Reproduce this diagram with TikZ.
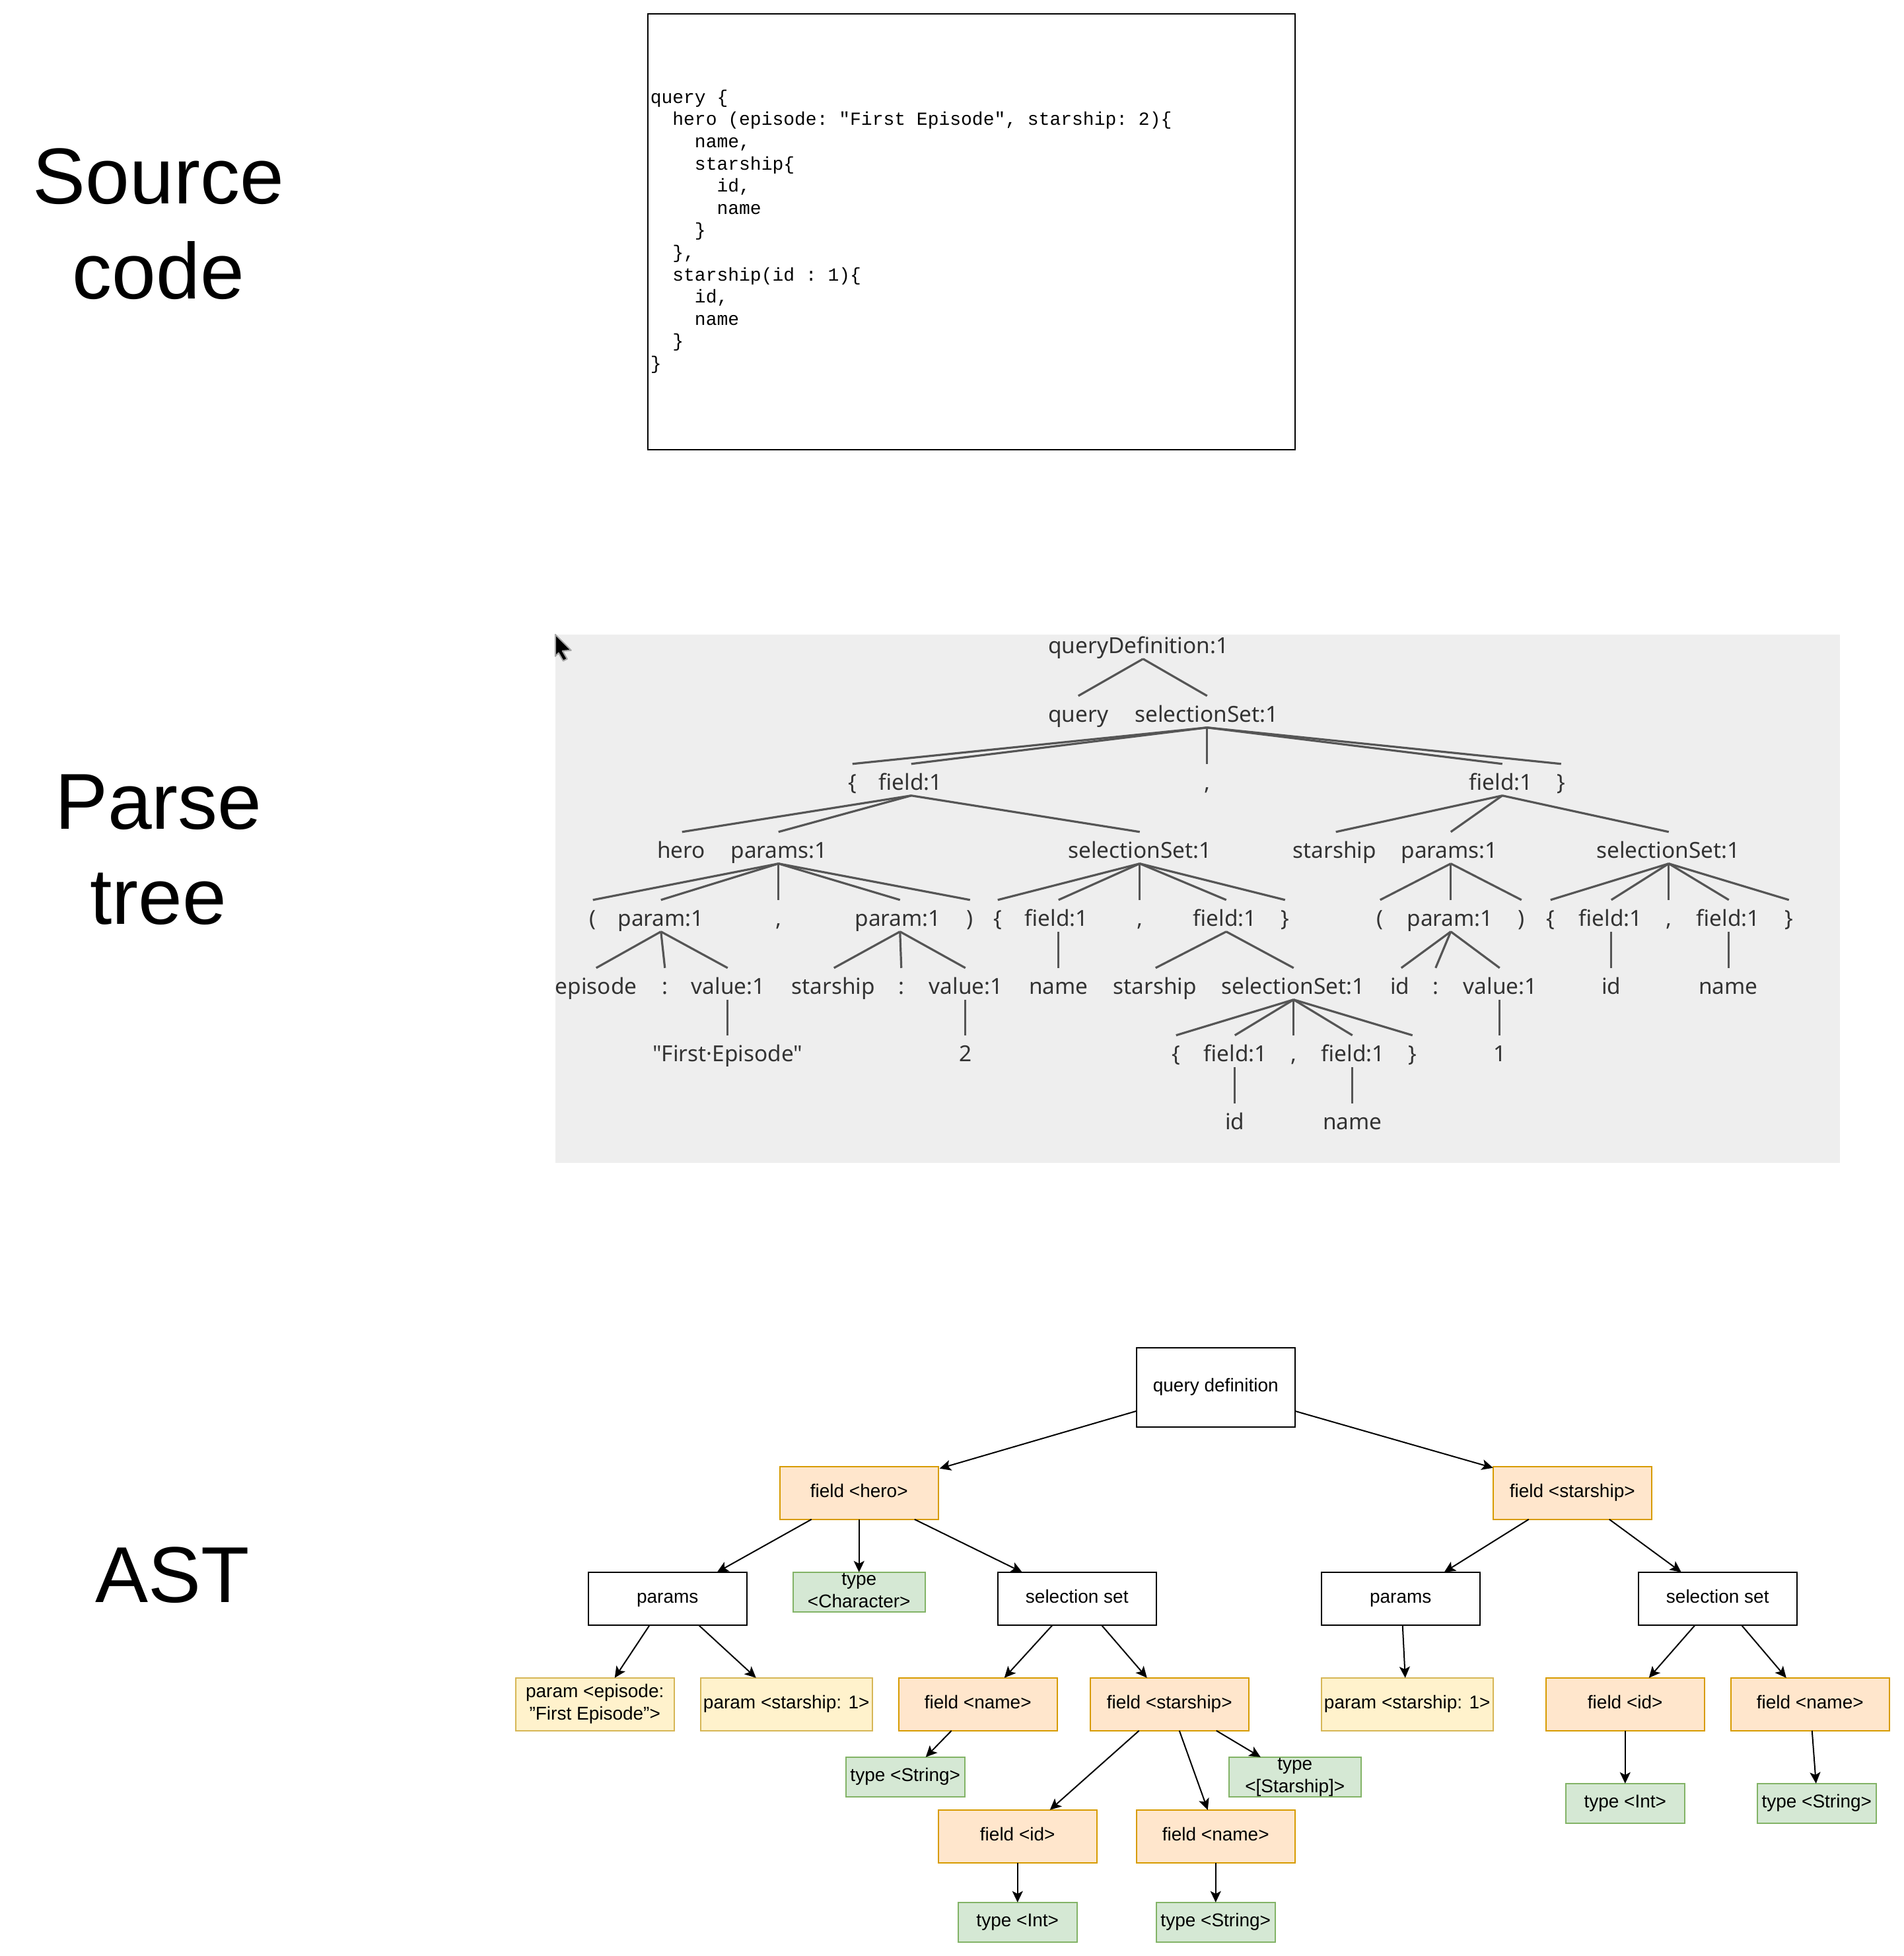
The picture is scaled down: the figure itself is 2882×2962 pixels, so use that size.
\documentclass[tikz,border=0pt]{standalone}
\usepackage{fontspec}
\setmainfont{Liberation Sans}
\setmonofont{Liberation Mono}
\newfontfamily\treefont{Noto Sans}
\usetikzlibrary{arrows.meta}
\definecolor{orfill}{HTML}{FFE6CC}\definecolor{ordraw}{HTML}{D79B00}
\definecolor{yefill}{HTML}{FFF2CC}\definecolor{yedraw}{HTML}{D6B656}
\definecolor{grfill}{HTML}{D5E8D4}\definecolor{grdraw}{HTML}{82B366}
\definecolor{treebg}{HTML}{EEEEEE}\definecolor{treetext}{HTML}{333333}\definecolor{treeline}{HTML}{555555}
\tikzset{
  x=0.5pt,y=-0.5pt,
  title/.style={font=\fontsize{60}{72}\selectfont,align=center,inner sep=0pt},
  box/.style={draw=black,line width=1pt,fill=white,inner sep=0pt,outer sep=0pt,align=center,
    font=\fontsize{14}{16.8}\selectfont,minimum width=120pt,minimum height=40pt,
    text height=10pt,text depth=3pt,
    execute at begin node={\spaceskip=0pt\xspaceskip=0pt}},
  twolines/.style={text height=26.8pt},
  orbox/.style={box,draw=ordraw,fill=orfill},
  yebox/.style={box,draw=yedraw,fill=yefill},
  grbox/.style={box,draw=grdraw,fill=grfill,minimum height=30pt},
  arr/.style={-{Stealth[length=8.5pt,width=8pt,inset=2pt]},line width=1pt,black},
  tn/.style={anchor=base,inner sep=0pt,outer sep=0pt,text height=20pt,text depth=4pt,
    font=\treefont\fontsize{16.7}{20}\selectfont,text=treetext},
  te/.style={draw=treeline,line width=1.6pt},
}
% connector from the bottom of one node to the top of another, with horizontal offsets
\newcommand{\conn}[4]{\draw[arr] ([shift={(#2,0)}]#1.south) -- ([shift={(#4,0)}]#3.north);}
\newcommand{\kids}[2]{\foreach \c in {#2}{\draw[te] (#1.south) -- (\c.north);}}
% text set a few pixels to the left of its node's axis
\newcommand{\tk}[2]{#2\kern\dimexpr #1pt-2pt\relax}
\begin{document}
\begin{tikzpicture}
\useasboundingbox (-0.75,-0.75) rectangle (2881.25,2961.25);
% titles
\node[title] (tsrc) at (239,338) {Source\\code};
\node[title] (tpar) at (239,1286) {Parse\\tree};
\node[title] (tast) at (260,2384) {AST};
% source code
\node[draw=black,line width=1pt,inner sep=0pt,outer sep=0pt,minimum width=490pt,minimum height=330pt,
  text width=486pt,align=left,font=\fontsize{14}{16.8}\selectfont\ttfamily,
  execute at begin node={\spaceskip=0pt\xspaceskip=0pt}] (src) at (1470,350)
{query \{\\
~~hero (episode: "First Episode", starship: 2)\{\\
~~~~name,\\
~~~~starship\{\\
~~~~~~id,\\
~~~~~~name\\
~~~~\}\\
~~\},\\
~~starship(id : 1)\{\\
~~~~id,\\
~~~~name\\
~~\}\\
\}};
% parse tree panel
\fill[treebg] (840,960) rectangle (2785,1760);
\draw[fill=black,draw=gray!70,line width=1pt,line join=round] (840,960) -- (864,984) -- (851,985) -- (858,997) -- (852,1000) -- (845,988) -- (840,993) -- cycle;
% row 0,1
\node[tn] (qd) at (1730,989) {\tk{9}{queryDefinition:1}};
\node[tn] (q) at (1632,1093) {query};
\node[tn] (ss) at (1827,1093) {\tk{3}{selectionSet:1}};
% row 2
\node[tn] (lb) at (1290,1196) {\{};
\node[tn] (fa) at (1379,1196) {\tk{3}{field:1}};
\node[tn] (ca) at (1827,1196) {,};
\node[tn] (fb) at (2274,1196) {\tk{4}{field:1}};
\node[tn] (rb) at (2363,1196) {\}};
% row 3
\node[tn] (he) at (1032,1299) {\tk{3}{hero}};
\node[tn] (pa) at (1178,1299) {\tk{1}{params:1}};
\node[tn] (sa) at (1725,1299) {\tk{2}{selectionSet:1}};
\node[tn] (st) at (2022,1299) {\tk{4}{starship}};
\node[tn] (pb) at (2196,1299) {\tk{4}{params:1}};
\node[tn] (sb) at (2526,1299) {\tk{3}{selectionSet:1}};
% row 4
\node[tn] (a1) at (897,1402) {(};
\node[tn] (a2) at (1000,1402) {param:1};
\node[tn] (a3) at (1178,1402) {,};
\node[tn] (a4) at (1362,1402) {\tk{5}{param:1}};
\node[tn] (a5) at (1468,1402) {)};
\node[tn] (b1) at (1510,1402) {\{};
\node[tn] (b2) at (1602,1402) {\tk{5}{field:1}};
\node[tn] (b3) at (1725,1402) {,};
\node[tn] (b4) at (1856,1402) {\tk{4}{field:1}};
\node[tn] (b5) at (1945,1402) {\}};
\node[tn] (c1) at (2089,1402) {(};
\node[tn] (c2) at (2196,1402) {\tk{3}{param:1}};
\node[tn] (c3) at (2303,1402) {)};
\node[tn] (d1) at (2347,1402) {\{};
\node[tn] (d2) at (2439,1402) {\tk{3}{field:1}};
\node[tn] (d3) at (2526,1402) {,};
\node[tn] (d4) at (2617,1402) {\tk{3}{field:1}};
\node[tn] (d5) at (2708,1402) {\}};
% row 5
\node[tn] (e1) at (902,1505) {episode};
\node[tn] (e2) at (1006,1505) {:};
\node[tn] (e3) at (1101,1505) {\tk{1}{value:1}};
\node[tn] (g1) at (1262,1505) {\tk{3}{starship}};
\node[tn] (g2) at (1364,1505) {:};
\node[tn] (g3) at (1461,1505) {\tk{1}{value:1}};
\node[tn] (h1) at (1602,1505) {name};
\node[tn] (h2) at (1749,1505) {\tk{3}{starship}};
\node[tn] (h3) at (1958,1505) {\tk{3}{selectionSet:1}};
\node[tn] (i1) at (2121,1505) {\tk{4}{id}};
\node[tn] (i2) at (2173,1505) {:};
\node[tn] (i3) at (2270,1505) {\tk{1}{value:1}};
\node[tn] (j1) at (2439,1505) {id};
\node[tn] (j2) at (2617,1505) {\tk{3}{name}};
% row 6
\node[tn] (k1) at (1101,1607) {"First·Episode"};
\node[tn] (k2) at (1461,1607) {2};
\node[tn] (m1) at (1780,1607) {\{};
\node[tn] (m2) at (1869,1607) {\tk{1}{field:1}};
\node[tn] (m3) at (1958,1607) {,};
\node[tn] (m4) at (2047,1607) {\tk{1}{field:1}};
\node[tn] (m5) at (2138,1607) {\}};
\node[tn] (k3) at (2270,1607) {1};
% row 7
\node[tn] (n1) at (1869,1710) {id};
\node[tn] (n2) at (2047,1710) {name};
% parse tree edges
\kids{qd}{q,ss}
\kids{ss}{lb,fa,ca,fb,rb}
\kids{fa}{he,pa,sa}
\kids{fb}{st,pb,sb}
\kids{pa}{a1,a2,a3,a4,a5}
\kids{sa}{b1,b2,b3,b4,b5}
\kids{pb}{c1,c2,c3}
\kids{sb}{d1,d2,d3,d4,d5}
\kids{a2}{e1,e2,e3}
\kids{a4}{g1,g2,g3}
\kids{b2}{h1}
\kids{b4}{h2,h3}
\kids{c2}{i1,i2,i3}
\kids{d2}{j1}
\kids{d4}{j2}
\kids{e3}{k1}
\kids{g3}{k2}
\kids{h3}{m1,m2,m3,m4,m5}
\kids{i3}{k3}
\kids{m2}{n1}
\kids{m4}{n2}
% AST nodes
\node[box] (qdef) at (1840,2100) [minimum height=60pt] {query definition};
\node[orbox] (hero) at (1300,2260) {field <hero>};
\node[orbox] (fstar) at (2380,2260) {field <starship>};
\node[box] (pl) at (1010,2420) {params};
\node[grbox,twolines,minimum width=100pt] (tc) at (1300,2410) {type\\<Character>};
\node[box] (sl) at (1630,2420) {selection set};
\node[box] (pr) at (2120,2420) {params};
\node[box] (sr) at (2600,2420) {selection set};
\node[yebox,twolines] (pep) at (900,2580) {param <episode:\\"First Episode">};
\node[yebox,minimum width=130pt] (pst) at (1190,2580) {param <starship: 1>};
\node[orbox] (fn1) at (1480,2580) {field <name>};
\node[orbox] (fs) at (1770,2580) {field <starship>};
\node[yebox,minimum width=130pt] (pst2) at (2130,2580) {param <starship: 1>};
\node[orbox] (fi2) at (2460,2580) {field <id>};
\node[orbox] (fn2) at (2740,2580) {field <name>};
\node[grbox,minimum width=90pt] (ts1) at (1370,2690) {type <String>};
\node[grbox,twolines,minimum width=100pt] (tss) at (1960,2690) {type\\<[Starship]>};
\node[orbox] (fi1) at (1540,2780) {field <id>};
\node[orbox] (fn3) at (1840,2780) {field <name>};
\node[grbox,minimum width=90pt] (ti1) at (1540,2910) {type <Int>};
\node[grbox,minimum width=90pt] (ts2) at (1840,2910) {type <String>};
\node[grbox,minimum width=90pt] (ti2) at (2460,2730) {type <Int>};
\node[grbox,minimum width=90pt] (ts3) at (2750,2730) {type <String>};
% AST connectors
\draw[arr] ([shift={(0,36)}]qdef.west) -- ([shift={(2,3)}]hero.north east);
\draw[arr] ([shift={(0,36)}]qdef.east) -- ([shift={(0,2)}]fstar.north west);
\conn{hero}{-72}{pl}{75}
\conn{hero}{0}{tc}{0}
\conn{hero}{84}{sl}{-83}
\conn{pl}{-27}{pep}{30}
\conn{pl}{47}{pst}{-46}
\conn{sl}{-37}{fn1}{40}
\conn{sl}{37}{fs}{-34}
\conn{fn1}{-40}{ts1}{31}
\conn{fs}{-46}{fi1}{49}
\conn{fs}{15}{fn3}{-12}
\conn{fs}{71}{tss}{-52}
\conn{fi1}{0}{ti1}{0}
\conn{fn3}{0}{ts2}{0}
\conn{fstar}{-66}{pr}{66}
\conn{fstar}{56}{sr}{-55}
\conn{pr}{3}{pst2}{-3}
\conn{sr}{-34}{fi2}{36}
\conn{sr}{36}{fn2}{-36}
\conn{fi2}{0}{ti2}{0}
\conn{fn2}{3}{ts3}{-1}
\end{tikzpicture}
\end{document}
